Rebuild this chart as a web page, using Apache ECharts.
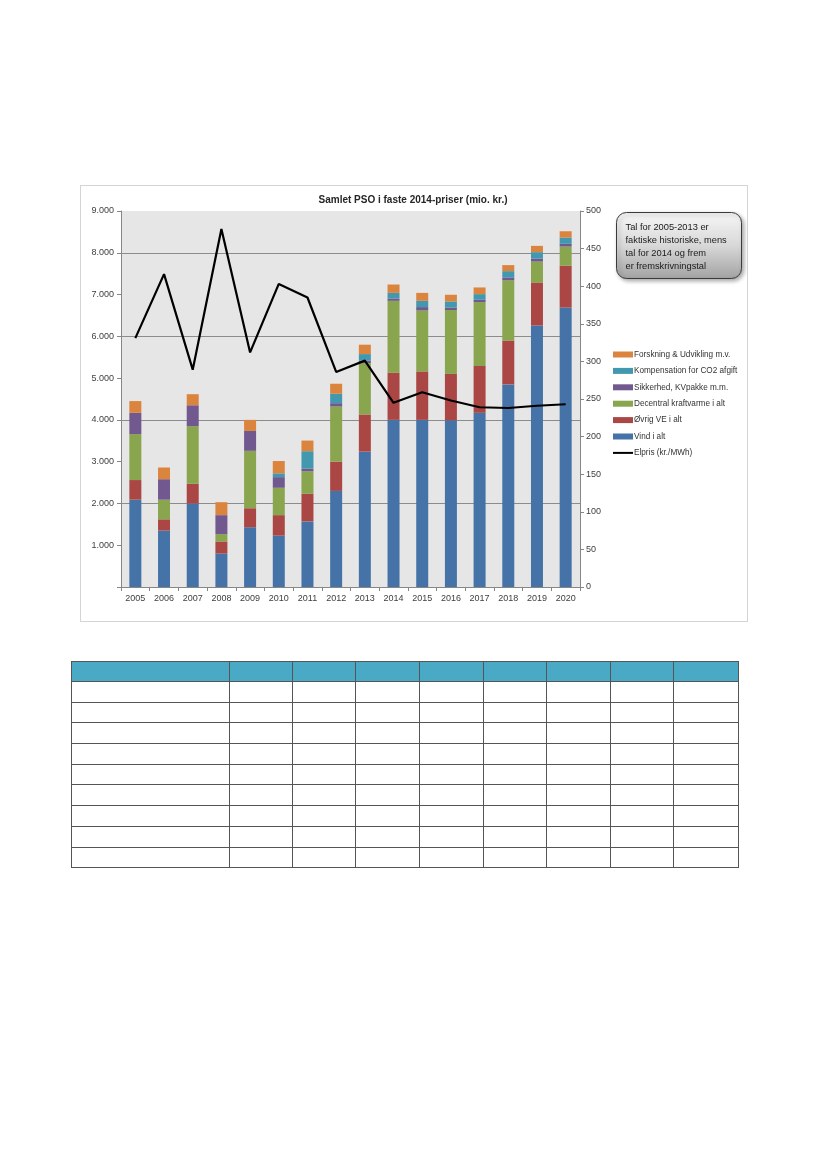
<!DOCTYPE html>
<html>
<head>
<meta charset="utf-8">
<script src="https://cdn.jsdelivr.net/npm/echarts@6/dist/echarts.min.js"></script>
<style>
  html, body { margin: 0; padding: 0; background: #fff; }
  body { width: 827px; height: 1169px; position: relative; overflow: hidden; }
  #box { position: absolute; left: 80px; top: 185px; width: 668px; height: 437px; border: 1px solid #d4d4d4; box-sizing: border-box; }
  #chart { width: 666px; height: 435px; }
  table { position: absolute; left: 71px; top: 661px; border-collapse: collapse; table-layout: fixed; width: 667px; }
  td { border: 1px solid #555; padding: 0; }
  tr { height: 20.7px; }
  tr.h { height: 20px; }
  tr.h td { background: #4aa9c4; }
</style>
</head>
<body>
<div id="box"><div id="chart"></div></div>
<table id="tbl"></table>
<script>
const years = ['2005','2006','2007','2008','2009','2010','2011','2012','2013','2014','2015','2016','2017','2018','2019','2020'];
const vind      = [2090,1350,2000, 800,1430,1230,1570,2300,3240,4000,4000,3990,4170,4850,6260,6690];
const ovrigVE   = [ 470, 270, 470, 290, 455, 490, 660, 700, 890,1130,1160,1110,1120,1050,1030,1000];
const decentral = [1100, 470,1380, 175,1375, 655, 540,1320,1230,1720,1460,1530,1530,1440, 500, 460];
const sikkerhed = [ 510, 490, 500, 455, 475, 255,  65,  80,  60,  55,  80,  60,  55,  70,  70,  65];
const co2komp   = [   0,   0,   0,   0,   0,  90, 415, 225, 155, 135, 150, 145, 135, 150, 155, 150];
const forskning = [ 280, 280, 265, 310, 265, 295, 255, 240, 225, 200, 190, 160, 160, 145, 150, 150];
const elpris    = [ 331, 416, 289, 476, 312, 403, 385, 286, 301, 245, 259, 248, 239, 238, 241, 243];
const leftTicks = { min: 0, max: 9000, interval: 1000 };
const rightTicks = { min: 0, max: 500, interval: 50 };
const names = ['Forskning & Udvikling m.v.','Kompensation for CO2 afgift','Sikkerhed, KVpakke m.m.','Decentral kraftvarme i alt','Øvrig VE i alt','Vind i alt','Elpris (kr./MWh)'];
const calloutLines = ['Tal for 2005-2013 er','faktiske historiske, mens','tal for 2014 og frem','er fremskrivningstal'];

// empty table
(function(){
  const widths = [158,63,63,64,64,63,64,63,65];
  const t = document.getElementById('tbl');
  const cg = document.createElement('colgroup');
  widths.forEach(w => { const c = document.createElement('col'); c.style.width = w + 'px'; cg.appendChild(c); });
  t.appendChild(cg);
  for (let r = 0; r < 10; r++) {
    const tr = document.createElement('tr');
    if (r === 0) tr.className = 'h';
    widths.forEach(() => tr.appendChild(document.createElement('td')));
    t.appendChild(tr);
  }
})();

const FONT = "'Liberation Sans', Arial, sans-serif";
const colors = { vind:'#4572a7', ovrig:'#aa4643', dec:'#89a54e', sik:'#71588f', co2:'#4198af', fors:'#db843d' };
const fmt = v => v === 0 ? '' : (v/1000).toFixed(3);

const chart = echarts.init(document.getElementById('chart'));
function bar(name, data, color) {
  return { name, type: 'bar', stack: 'pso', data, barWidth: 12, itemStyle: { color }, emphasis: { disabled: true } };
}
const lineColors = ['#8c8c8c','rgba(0,0,0,0)'];
chart.setOption({
  animation: false,
  textStyle: { fontFamily: FONT },
  grid: { left: 40, top: 25, right: 167, bottom: 34, show: true, backgroundColor: '#e6e6e6', borderWidth: 0 },
  legend: {
    orient: 'vertical', left: 527, top: 158, itemGap: 5.4, itemWidth: 20, itemHeight: 6,
    textStyle: { fontFamily: FONT, fontSize: 8.2, color: '#333', lineHeight: 11, padding: [0,0,0,-4] },
    data: names.map((n, i) => i < 6 ? { name: n, icon: 'rect' } : { name: n, icon: 'path://M0,0 L20,0 L20,2 L0,2 Z', itemStyle: { color: '#000' } })
  },
  xAxis: {
    type: 'category', data: years,
    axisLine: { lineStyle: { color: '#868686' } },
    axisTick: { show: true, length: 4, lineStyle: { color: '#868686' } },
    axisLabel: { fontFamily: FONT, fontSize: 9, color: '#404040', margin: 7 }
  },
  yAxis: [
    { type: 'value', min: leftTicks.min, max: leftTicks.max, interval: leftTicks.interval,
      axisLine: { show: true, lineStyle: { color: '#868686' } },
      axisTick: { show: true, length: 4, lineStyle: { color: '#868686' } },
      axisLabel: { formatter: fmt, fontFamily: FONT, fontSize: 9, color: '#404040', margin: 7 },
      splitLine: { show: true, lineStyle: { color: lineColors, width: 1 } } },
    { type: 'value', min: rightTicks.min, max: rightTicks.max, interval: rightTicks.interval, position: 'right',
      axisLine: { show: true, lineStyle: { color: '#868686' } },
      axisTick: { show: true, length: 4, lineStyle: { color: '#868686' } },
      axisLabel: { fontFamily: FONT, fontSize: 9, color: '#404040', margin: 6 },
      splitLine: { show: false } }
  ],
  series: [
    bar(names[5], vind, colors.vind),
    bar(names[4], ovrigVE, colors.ovrig),
    bar(names[3], decentral, colors.dec),
    bar(names[2], sikkerhed, colors.sik),
    bar(names[1], co2komp, colors.co2),
    bar(names[0], forskning, colors.fors),
    { name: names[6], type: 'line', yAxisIndex: 1, data: elpris, symbol: 'none', showSymbol: false,
      lineStyle: { color: '#000', width: 2.2 }, itemStyle: { color: '#000' }, z: 5 }
  ],
  graphic: [
    { type: 'text', x: 332, y: 9,
      style: { text: 'Samlet PSO i faste 2014-priser (mio. kr.)', font: "bold 10px " + FONT, fill: '#262626', textAlign: 'center' } },
    { type: 'group', left: 535, top: 26,
    children: [
      { type: 'rect', shape: { x: 0, y: 0, width: 125, height: 66, r: 10 },
        style: { fill: new echarts.graphic.LinearGradient(0,0,0,1,[{offset:0,color:'#f7f7f7'},{offset:0.5,color:'#d8d8d8'},{offset:1,color:'#a2a2a2'}]),
                 stroke: '#3a3a3a', lineWidth: 1, shadowBlur: 4, shadowOffsetX: 2, shadowOffsetY: 2, shadowColor: 'rgba(0,0,0,0.35)' } },
      { type: 'text', left: 9, top: 8,
        style: { text: calloutLines.join('\n'), font: "9.3px " + FONT, fill: '#1a1a1a', lineHeight: 13 } }
    ]
  }]
});
</script>
</body>
</html>
